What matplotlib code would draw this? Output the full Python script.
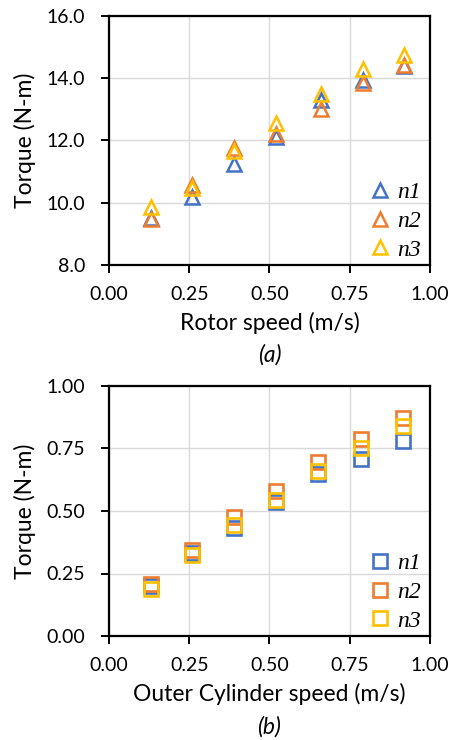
import matplotlib.pyplot as plt
from matplotlib.ticker import FormatStrFormatter

# panel (a): rotor torque
rotor_speed = [0.13, 0.26, 0.39, 0.52, 0.66, 0.79, 0.92]
rotor_n1 = [9.5, 10.18, 11.24, 12.1, 13.3, 13.94, 14.4]
rotor_n2 = [9.47, 10.57, 11.75, 12.2, 13.0, 13.84, 14.42]
rotor_n3 = [9.85, 10.46, 11.67, 12.55, 13.49, 14.3, 14.75]

# panel (b): outer cylinder torque
cyl_speed = [0.13, 0.26, 0.39, 0.52, 0.65, 0.785, 0.915]
cyl_n1 = [0.2, 0.33, 0.431, 0.535, 0.648, 0.707, 0.781]
cyl_n2 = [0.207, 0.344, 0.477, 0.581, 0.697, 0.787, 0.873]
cyl_n3 = [0.19, 0.324, 0.444, 0.544, 0.661, 0.751, 0.84]

labels = ["n1", "n2", "n3"]
colors = ["#4472C4", "#ED7D31", "#FFC000"]

plt.rcParams['font.family'] = ['Lato', 'DejaVu Sans']

fig = plt.figure(figsize=(4.54, 7.40), dpi=100)
ax_a = fig.add_axes([0.240, 0.642, 0.707, 0.3365])
ax_b = fig.add_axes([0.240, 0.1405, 0.707, 0.338])


def style(ax, xlabel, yticks, fmt, panel):
    ax.set_xlim(0, 1)
    ax.set_xticks([0, 0.25, 0.5, 0.75, 1.0])
    ax.set_ylim(yticks[0], yticks[-1])
    ax.set_yticks(yticks)
    ax.xaxis.set_major_formatter(FormatStrFormatter('%.2f'))
    ax.yaxis.set_major_formatter(FormatStrFormatter(fmt))
    ax.grid(True, color='#d9d9d9', linewidth=1)
    ax.set_axisbelow(True)
    for s in ax.spines.values():
        s.set_linewidth(1.6)
        s.set_color('black')
    ax.tick_params(direction='out', length=5.5, width=1.4, labelsize=14)
    ax.tick_params(axis='x', pad=9.5)
    ax.tick_params(axis='y', pad=11.5)
    ax.set_xlabel(xlabel, fontsize=16.5, va='center')
    ax.xaxis.set_label_coords(0.5, -0.232)
    ax.set_ylabel("Torque (N-m)", fontsize=16.5, va='center')
    ax.yaxis.set_label_coords(-0.262, 0.5)
    ax.text(0.5, -0.362, panel, transform=ax.transAxes, ha='center', va='center',
            fontsize=16.5, style='italic')


series_a = [rotor_n1, rotor_n2, rotor_n3]
for ys, lab, c in zip(series_a, labels, colors):
    ax_a.plot(rotor_speed, ys, linestyle='none', marker='^', markersize=10,
              markerfacecolor='none', markeredgecolor=c, markeredgewidth=1.8, label=lab)
style(ax_a, "Rotor speed (m/s)", [8, 10, 12, 14, 16], '%.1f', "(a)")

series_b = [cyl_n1, cyl_n2, cyl_n3]
for ys, lab, c in zip(series_b, labels, colors):
    ax_b.plot(cyl_speed, ys, linestyle='none', marker='s', markersize=9.5,
              markerfacecolor='none', markeredgecolor=c, markeredgewidth=1.9, label=lab)
style(ax_b, "Outer Cylinder speed (m/s)", [0, 0.25, 0.5, 0.75, 1.0], '%.2f', "(b)")

for ax in (ax_a, ax_b):
    ax.legend(loc='lower right', bbox_to_anchor=(1.006, -0.025), frameon=False,
              handlelength=0.8, handletextpad=0.35, labelspacing=0.3,
              borderaxespad=0.15, borderpad=0.3,
              prop={'family': 'Liberation Serif', 'style': 'italic', 'size': 17})

fig.savefig("out.png", dpi=100)
